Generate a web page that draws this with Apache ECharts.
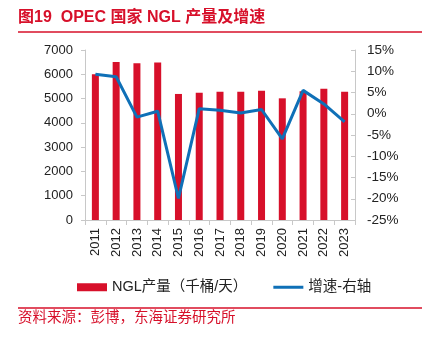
<!DOCTYPE html>
<html><head><meta charset="utf-8">
<script src="https://cdn.jsdelivr.net/npm/echarts@6/dist/echarts.min.js"></script>
<style>html,body{margin:0;padding:0;background:#fff}#c{width:422px;height:338px}</style>
</head><body><div id="c"></div>
<script>
const categories = ['2011','2012','2013','2014','2015','2016','2017','2018','2019','2020','2021','2022','2023'];
const nglOutput = [6000, 6510, 6450, 6490, 5190, 5240, 5280, 5280, 5320, 5010, 5300, 5400, 5280];
const growthPct = [9.3, 8.7, -0.8, 0.6, -19.9, 1.2, 0.8, 0.2, 1.0, -5.9, 5.5, 2.3, -1.9];
const barName = 'NGL产量（千桶/天）';
const lineName = '增速-右轴';
const titleText = '图19  OPEC 国家 NGL 产量及增速';
const sourceText = '资料来源：彭博，东海证券研究所';

const FONT = '"Liberation Sans", "Noto Sans CJK SC", sans-serif';
const RED = '#d7102a';
const BLUE = '#0f70b7';
const chart = echarts.init(document.getElementById('c'), null, {renderer: 'canvas'});
chart.setOption({
  animation: false,
  textStyle: {fontFamily: FONT},
  graphic: [
    {type: 'text', left: 18, top: 10, style: {text: titleText, fill: RED, font: 'bold 16px ' + FONT}},
    {type: 'line', shape: {x1: 18, y1: 32, x2: 422, y2: 32}, style: {stroke: RED, lineWidth: 1.5}},
    {type: 'line', shape: {x1: 18, y1: 308, x2: 422, y2: 308}, style: {stroke: RED, lineWidth: 1.5}},
    {type: 'text', left: 18, top: 311, style: {text: sourceText, fill: RED, font: '14.5px ' + FONT}}
  ],
  grid: {left: 85, right: 67, top: 50, bottom: 118, containLabel: false},
  legend: {
    left: 72, top: 275, itemGap: 26, itemWidth: 30, itemHeight: 8,
    textStyle: {fontSize: 14.5, color: '#222', fontFamily: FONT},
    data: [
      {name: barName, icon: 'rect'},
      {name: lineName, icon: 'path://M0,0 L30,0 L30,3 L0,3 Z', itemStyle: {color: BLUE}}
    ]
  },
  xAxis: {
    type: 'category', data: categories, boundaryGap: true,
    axisLine: {lineStyle: {color: '#c8c8c8'}},
    axisTick: {show: true, alignWithLabel: false, length: 5, lineStyle: {color: '#c8c8c8'}},
    axisLabel: {rotate: 90, fontSize: 13, color: '#222', margin: 8, fontFamily: FONT}
  },
  yAxis: [
    {
      type: 'value', min: 0, max: 7000, interval: 1000,
      axisLine: {show: true, lineStyle: {color: '#c8c8c8'}},
      axisTick: {show: true, length: 4, lineStyle: {color: '#c8c8c8'}},
      splitLine: {show: false},
      axisLabel: {fontSize: 13, color: '#222', margin: 12, fontFamily: FONT, formatter: v => String(v)}
    },
    {
      type: 'value', min: -25, max: 15, interval: 5, position: 'right',
      axisLine: {show: true, lineStyle: {color: '#c8c8c8'}},
      axisTick: {show: true, inside: true, length: 4, lineStyle: {color: '#c8c8c8'}},
      splitLine: {show: false},
      axisLabel: {fontSize: 13.5, color: '#222', margin: 12, fontFamily: FONT, formatter: v => v + '%'}
    }
  ],
  series: [
    {name: barName, type: 'bar', data: nglOutput, barWidth: 7, itemStyle: {color: RED}},
    {name: lineName, type: 'line', yAxisIndex: 1, data: growthPct, symbol: 'none',
     lineStyle: {color: BLUE, width: 3}, itemStyle: {color: BLUE}}
  ]
});
</script></body></html>
